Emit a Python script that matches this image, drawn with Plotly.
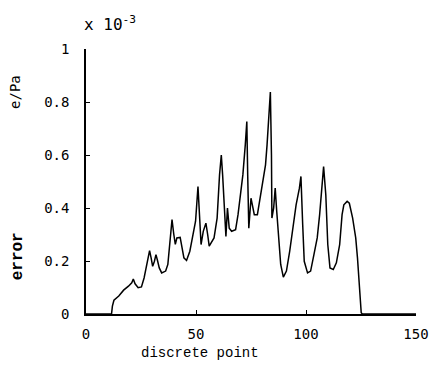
import plotly.graph_objects as go

# discrete point index and error (x 10^-3 Pa)
points = [0, 11.6, 12.0, 12.7, 14.9, 17.1, 19.3, 20.8, 21.5, 22.3, 23.7, 25.2, 26.4, 27.4, 28.1, 28.9,
          29.6, 30.3, 31.1, 31.8, 32.5, 33.3, 34.4, 36.2, 37.2, 38.1, 38.7, 39.1, 39.9, 40.6, 41.3,
          42.8, 44.5, 45.7, 47.2, 48.7, 49.8, 50.9, 51.6, 52.3, 53.3, 54.5, 55.3, 56.0, 58.2, 59.6,
          60.7, 61.5, 62.1, 63.0, 63.6, 64.3, 65.1, 66.2, 68.0, 69.1, 70.3, 71.3, 72.4, 73.1, 73.5,
          74.0, 75.0, 76.5, 77.9, 79.1, 80.1, 81.6, 82.3, 83.4, 83.8, 84.3, 84.5, 85.3, 86.0, 86.7,
          87.5, 88.5, 89.7, 91.1, 92.6, 94.1, 95.5, 97.0, 97.7, 98.5, 99.2, 100.7, 102.1, 103.6,
          105.1, 106.2, 107.3, 108.0, 109.0, 109.9, 110.9, 112.4, 113.8, 115.3, 116.4, 117.2,
          118.7, 119.7, 121.2, 122.6, 123.4, 124.5, 125.1, 125.6, 150]
error = [0, 0, 0.030, 0.052, 0.068, 0.090, 0.105, 0.118, 0.132, 0.114, 0.099, 0.102, 0.136, 0.180,
         0.218, 0.239, 0.212, 0.180, 0.199, 0.224, 0.202, 0.174, 0.155, 0.162, 0.187, 0.262, 0.331,
         0.356, 0.301, 0.263, 0.287, 0.289, 0.212, 0.202, 0.237, 0.300, 0.350, 0.481, 0.362, 0.262,
         0.312, 0.343, 0.300, 0.256, 0.287, 0.362, 0.525, 0.600, 0.525, 0.400, 0.293, 0.400, 0.324,
         0.312, 0.318, 0.375, 0.450, 0.525, 0.638, 0.726, 0.525, 0.324, 0.437, 0.375, 0.375, 0.437,
         0.500, 0.563, 0.638, 0.763, 0.838, 0.600, 0.362, 0.400, 0.475, 0.387, 0.312, 0.187, 0.139,
         0.162, 0.237, 0.324, 0.412, 0.475, 0.519, 0.337, 0.199, 0.155, 0.162, 0.224, 0.287, 0.375,
         0.500, 0.556, 0.450, 0.262, 0.174, 0.168, 0.193, 0.262, 0.375, 0.412, 0.425, 0.418, 0.362,
         0.287, 0.212, 0.074, 0.005, 0, 0]

x_ticks = [0, 50, 100, 150]
y_ticks = [0, 0.2, 0.4, 0.6, 0.8, 1]
y_ticklabels = ["0", "0.2", "0.4", "0.6", "0.8", "1"]

fig = go.Figure()
fig.add_trace(go.Scatter(x=points, y=error, mode="lines",
                         line=dict(color="black", width=1.5), showlegend=False))

tickfont = dict(family="DejaVu Sans Mono", size=14, color="black")
fig.update_layout(
    width=441, height=370,
    margin=dict(l=86, r=14, t=49, b=56),
    paper_bgcolor="white", plot_bgcolor="white",
    xaxis=dict(range=[0, 150], tickvals=x_ticks, ticks="inside", ticklen=4,
               tickcolor="black", showline=True, linecolor="black", linewidth=1.5,
               showgrid=False, zeroline=False, tickfont=tickfont, ticklabelstandoff=6),
    yaxis=dict(range=[0, 1], tickvals=y_ticks, ticktext=y_ticklabels, ticks="inside",
               ticklen=4, tickcolor="black", showline=True, linecolor="black", linewidth=1.5,
               showgrid=False, zeroline=False, tickfont=tickfont, ticklabelstandoff=12),
    annotations=[
        dict(text="x 10<sup>-3</sup>", xref="paper", yref="paper", x=-0.012, y=1.095,
             xanchor="left", yanchor="middle", showarrow=False,
             font=dict(family="DejaVu Sans Mono", size=16, color="black")),
        dict(text="discrete point", xref="paper", yref="paper", x=0.346, y=-0.147,
             xanchor="center", yanchor="middle", showarrow=False,
             font=dict(family="Liberation Mono", size=14, color="black")),
        dict(text="e/Pa", xref="paper", yref="paper", x=-0.215, y=0.838,
             xanchor="center", yanchor="middle", showarrow=False, textangle=-90,
             font=dict(family="DejaVu Sans Mono", size=14, color="black")),
        dict(text="<b>error</b>", xref="paper", yref="paper", x=-0.205, y=0.219,
             xanchor="center", yanchor="middle", showarrow=False, textangle=-90,
             font=dict(family="Liberation Mono", size=16, color="black")),
    ],
)

fig.write_html("out.html")
